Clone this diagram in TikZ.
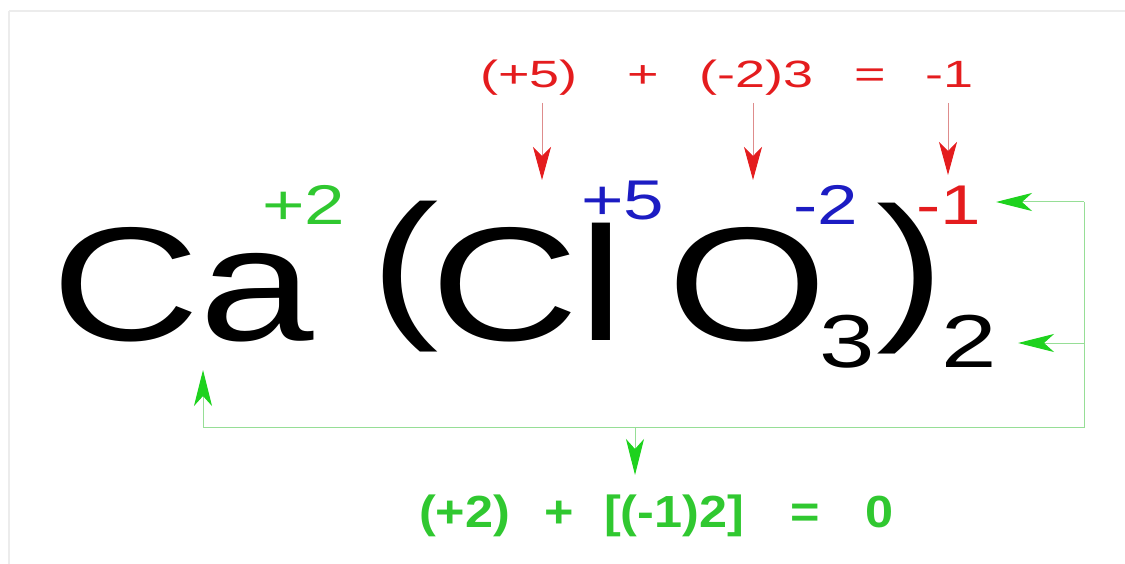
\documentclass[tikz,border=0pt]{standalone}
\usepackage{fontspec}
\setmainfont{Liberation Sans}
\newfontfamily\wideA[FakeStretch=1.27]{Liberation Sans}
\newfontfamily\wideS[FakeStretch=1.33]{Liberation Sans}
\newfontfamily\wideP[FakeStretch=1.3]{Liberation Sans}
\newfontfamily\wideT[FakeStretch=1.42]{Liberation Sans}
\newfontfamily\wideB[FakeStretch=1.12]{Liberation Sans}
\usetikzlibrary{arrows.meta}
\definecolor{myred}{RGB}{228,28,30}
\definecolor{redshaft}{RGB}{222,140,140}
\definecolor{mygreen}{RGB}{48,200,48}
\definecolor{greenhead}{RGB}{30,210,30}
\definecolor{greenshaft}{RGB}{150,222,150}
\definecolor{myblue}{RGB}{28,28,195}
\definecolor{framegray}{RGB}{236,236,236}
\tikzset{
  glyph/.style={inner sep=0pt, anchor=base west},
  bigtext/.style={glyph, font=\wideA\fontsize{162}{162}\selectfont},
  subtext/.style={glyph, font=\wideS\fontsize{75}{75}\selectfont},
  suptext/.style={glyph, font=\wideP\fontsize{56}{56}\selectfont},
  toptext/.style={glyph, text=myred, font=\wideT\fontsize{38}{38}\selectfont},
  bottext/.style={glyph, text=mygreen, font=\wideB\bfseries\fontsize{45}{45}\selectfont},
  redarrow/.style={draw=redshaft, line width=1pt,
    -{Stealth[length=33pt, width=18pt, inset=9pt, color=myred]}},
  greenarrow/.style={draw=greenshaft, line width=1pt,
    -{Stealth[length=36pt, width=18pt, inset=10pt, color=greenhead]}},
  greenline/.style={draw=greenshaft, line width=1pt},
}
\begin{document}
\begin{tikzpicture}[x=1pt, y=-1pt]
\useasboundingbox (0,0) rectangle (1125,564);
% faint frame
\draw[framegray, line width=2pt] (9,11) -- (1125,11);
\draw[framegray, line width=2pt] (9,11) -- (9,564);

% formula
\node[bigtext] (ca) at (51,340) {Ca};
\node[bigtext] (lpar) at (370,318) {(};
\node[bigtext] (cl1) at (430,340) {C};
\node[bigtext] (cl2) at (578,340) {l};
\node[bigtext] (ox) at (667,340) {O};
\node[subtext] (s3) at (819,367) {3};
\node[bigtext] (rpar) at (876,320) {)};
\node[subtext] (s2) at (941,367) {2};

% oxidation states
\node[suptext, text=mygreen] (ox1) at (262,225) {+2};
\node[suptext, text=myblue] (ox2) at (581,220) {+5};
\node[suptext, text=myblue] (ox3) at (793,225) {-2};
\node[suptext, text=myred] (ox4) at (916,225) {-1};

% top equation
\node[toptext] (t1) at (480,88) {(+5)};
\node[toptext] (t2) at (627,88) {+};
\node[toptext] (t3) at (699,88) {(-2)3};
\node[toptext] (t4) at (854,88) {=};
\node[toptext] (t5) at (925,88) {-1};

% bottom equation
\node[bottext] (b1) at (419,527) {(+2)};
\node[bottext] (b2) at (544,527) {+};
\node[bottext] (b3) at (604,527) {[(-1)2]};
\node[bottext] (b4) at (790,527) {=};
\node[bottext] (b5) at (865,527) {0};

% red arrows
\coordinate (r1s) at (542,103); \coordinate (r1t) at (542,180);
\coordinate (r2s) at (753,103); \coordinate (r2t) at (753,180);
\coordinate (r3s) at (948,103); \coordinate (r3t) at (948,175);
\draw[redarrow] (r1s) -- (r1t);
\draw[redarrow] (r2s) -- (r2t);
\draw[redarrow] (r3s) -- (r3t);

% green connectors
\coordinate (gTop) at (1084,202);
\coordinate (gMid) at (1084,343);
\coordinate (gBR) at (1084,427);
\coordinate (gBL) at (203,427);
\coordinate (gDn) at (635,427);
\coordinate (tipTop) at (996,202);
\coordinate (tipMid) at (1018,343);
\coordinate (tipUp) at (203,370);
\coordinate (tipDn) at (635,475);
\draw[greenline] (gTop) -- (gBR) -- (gBL);
\draw[greenarrow] (gTop) -- (tipTop);
\draw[greenarrow] (gMid) -- (tipMid);
\draw[greenarrow] (gBL) -- (tipUp);
\draw[greenarrow] (gDn) -- (tipDn);
\end{tikzpicture}
\end{document}
